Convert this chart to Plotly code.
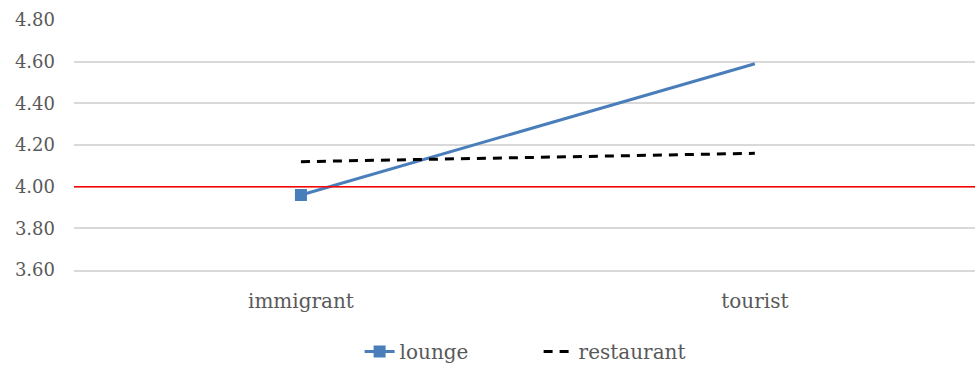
import plotly.graph_objects as go

categories = ["immigrant", "tourist"]
lounge = [3.96, 4.59]
restaurant = [4.12, 4.16]
reference_level = 4.00
y_ticks = [3.60, 3.80, 4.00, 4.20, 4.40, 4.60, 4.80]

font_family = "DejaVu Serif"
text_color = "#595959"

fig = go.Figure()
fig.add_trace(go.Scatter(
    x=categories, y=lounge, name="lounge", mode="lines+markers",
    line=dict(color="#4a7ebb", width=3),
    marker=dict(symbol="square", size=12, color=["#4a7ebb", "rgba(0,0,0,0)"]),
))
fig.add_trace(go.Scatter(
    x=categories, y=restaurant, name="restaurant", mode="lines",
    line=dict(color="black", width=3, dash="9px,7px"),
))
fig.add_shape(type="line", xref="paper", x0=0, x1=1, yref="y",
              y0=reference_level, y1=reference_level,
              line=dict(color="#ff0000", width=1.5), layer="above")

fig.update_layout(
    width=975, height=371,
    margin=dict(l=74, r=0, t=20, b=100),
    paper_bgcolor="white", plot_bgcolor="white",
    font=dict(family=font_family, size=17, color=text_color),
    showlegend=True,
    legend=dict(orientation="h", x=0.317, xanchor="left", y=-0.25, yanchor="top",
                font=dict(size=20, color=text_color), entrywidth=134,
                entrywidthmode="pixels"),
)
fig.update_xaxes(range=[-0.5, 1.485], showgrid=False, showline=True,
                 linecolor="#d9d9d9", linewidth=1.5, ticks="",
                 tickfont=dict(size=20), ticklabelstandoff=12)
fig.update_yaxes(range=[3.6, 4.8], tickvals=y_ticks, tickformat=".2f",
                 showgrid=True, gridcolor="#d9d9d9", gridwidth=1.5,
                 zeroline=False, showline=False, ticks="",
                 ticklabelstandoff=18, tickfont=dict(size=18))

fig.write_html("out.html")
